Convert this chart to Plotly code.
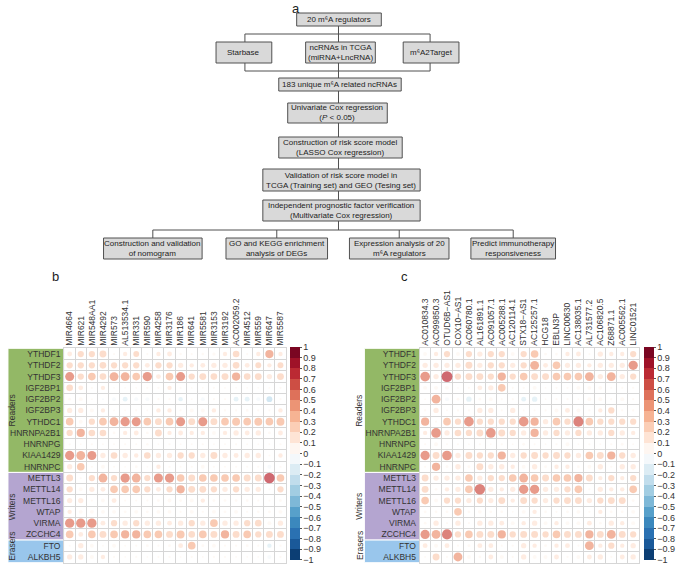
import numpy as np
import plotly.graph_objects as go

W, H = 676, 565

# ---------------- data ----------------
regulators = ["YTHDF1", "YTHDF2", "YTHDF3", "IGF2BP1", "IGF2BP2", "IGF2BP3", "YTHDC1",
              "HNRNPA2B1", "HNRNPG", "KIAA1429", "HNRNPC", "METTL3", "METTL14", "METTL16",
              "WTAP", "VIRMA", "ZCCHC4", "FTO", "ALKBH5"]
group_names = ["Readers", "Writers", "Erasers"]
group_sizes = [11, 6, 2]

mirnas = ["MIR4664", "MIR621", "MIR548AA1", "MIR4292", "MIR573", "AL513534.1", "MIR331",
          "MIR590", "MIR4258", "MIR3176", "MIR186", "MIR641", "MIR5581", "MIR3153",
          "MIR3192", "AC002059.2", "MIR4512", "MIR559", "MIR647", "MIR5587"]
lncrnas = ["AC010834.3", "AC099850.3", "OTUD6B−AS1", "COX10−AS1", "AC060780.1",
           "AL161891.1", "AC091057.1", "AC005288.1", "AC120114.1", "STX18−AS1",
           "AC125257.1", "HCG18", "EBLN3P", "LINC00630", "AC138035.1", "AL731577.2",
           "AC106820.5", "Z68871.1", "AC005562.1", "LINC01521"]

corr_b = [
    [0.15, 0.25, 0.25, 0.30, 0.03, 0.12, 0.22, 0.03, 0.12, 0.15, 0.04, 0.03, 0.04, 0.07, 0.12, 0.28, 0.03, 0.12, 0.43, 0.12],
    [0.25, 0.25, 0.25, 0.28, 0.25, 0.25, 0.25, 0.15, 0.25, 0.25, 0.18, 0.12, 0.15, 0.18, 0.18, 0.28, 0.15, 0.22, 0.12, 0.22],
    [0.52, 0.25, 0.37, 0.28, 0.50, 0.50, 0.37, 0.55, 0.15, 0.37, 0.52, 0.25, 0.30, 0.28, 0.30, 0.43, 0.28, 0.30, 0.18, 0.30],
    [0.28, 0.15, 0.03, 0.12, 0.02, 0.02, 0.02, 0.03, 0.03, 0.12, 0.03, 0.02, 0.02, 0.03, 0.02, 0.02, 0.02, 0.02, 0.02, 0.03],
    [0.05, 0.10, 0.02, -0.02, -0.10, -0.15, -0.10, -0.10, 0.03, 0.03, -0.12, 0.02, -0.10, 0.03, 0.03, -0.15, -0.15, -0.10, -0.22, 0.03],
    [0.18, 0.18, 0.10, 0.12, 0.02, 0.02, 0.03, 0.02, 0.12, 0.12, 0.03, 0.10, 0.10, 0.12, 0.03, 0.03, 0.05, 0.03, 0.03, 0.12],
    [0.37, 0.10, 0.25, 0.37, 0.50, 0.55, 0.52, 0.37, 0.30, 0.37, 0.52, 0.30, 0.52, 0.30, 0.37, 0.40, 0.37, 0.40, 0.37, 0.40],
    [0.25, 0.43, 0.28, 0.28, 0.05, 0.12, 0.15, 0.05, 0.30, 0.12, 0.15, 0.12, 0.12, 0.10, 0.12, 0.18, 0.15, 0.18, 0.05, 0.15],
    [0.03, 0.02, 0.03, 0.02, 0.02, 0.03, 0.02, 0.04, 0.02, 0.03, 0.02, 0.02, 0.03, 0.02, 0.02, 0.03, 0.02, 0.02, 0.02, 0.03],
    [0.55, 0.50, 0.52, 0.18, 0.28, 0.18, 0.12, 0.28, 0.18, 0.18, 0.25, 0.25, 0.18, 0.30, 0.18, 0.15, 0.18, 0.18, 0.03, 0.12],
    [0.18, 0.37, 0.03, 0.10, 0.03, 0.02, 0.05, 0.02, 0.12, 0.03, 0.03, 0.03, 0.10, 0.03, 0.03, 0.03, 0.03, 0.03, -0.10, 0.03],
    [0.30, 0.03, 0.25, 0.50, 0.25, 0.55, 0.50, 0.25, 0.52, 0.55, 0.37, 0.30, 0.37, 0.37, 0.37, 0.37, 0.30, 0.30, 0.72, 0.37],
    [0.25, 0.10, 0.18, 0.15, 0.37, 0.37, 0.37, 0.25, 0.15, 0.25, 0.43, 0.30, 0.30, 0.25, 0.18, 0.25, 0.18, 0.18, 0.03, 0.25],
    [0.18, 0.18, 0.03, 0.10, 0.15, 0.03, 0.03, 0.03, 0.05, 0.10, 0.05, 0.10, 0.12, 0.05, 0.05, 0.05, 0.05, 0.03, 0.03, 0.05],
    [0.12, 0.10, 0.10, 0.10, 0.10, 0.05, 0.10, 0.05, 0.10, 0.10, 0.03, 0.10, 0.03, 0.10, 0.05, 0.10, 0.03, 0.05, 0.05, 0.10],
    [0.55, 0.55, 0.55, 0.15, 0.25, 0.18, 0.25, 0.18, 0.18, 0.15, 0.18, 0.25, 0.18, 0.37, 0.18, 0.18, 0.25, 0.28, 0.10, 0.18],
    [0.37, 0.15, 0.37, 0.30, 0.37, 0.43, 0.43, 0.37, 0.37, 0.30, 0.40, 0.28, 0.37, 0.30, 0.43, 0.30, 0.37, 0.25, 0.30, 0.30],
    [0.02, 0.18, 0.10, 0.02, 0.10, 0.02, 0.03, 0.05, 0.03, 0.05, 0.15, 0.37, 0.05, 0.10, 0.03, 0.03, 0.05, 0.03, -0.12, 0.03],
    [0.18, 0.18, 0.10, 0.12, 0.03, 0.02, 0.03, 0.02, 0.03, 0.03, 0.02, 0.03, 0.02, 0.03, 0.03, 0.02, 0.02, 0.02, -0.10, 0.03],
]

corr_c = [
    [0.10, 0.12, 0.25, 0.10, 0.25, 0.18, 0.25, 0.25, 0.10, 0.25, 0.37, 0.05, 0.05, 0.12, 0.15, 0.03, 0.18, 0.12, 0.12, 0.25],
    [0.18, 0.18, 0.18, 0.18, 0.30, 0.18, 0.25, 0.25, 0.18, 0.25, 0.50, 0.15, 0.37, 0.18, 0.18, 0.12, 0.18, 0.18, 0.18, 0.55],
    [0.60, 0.18, 0.75, 0.25, 0.30, 0.30, 0.25, 0.43, 0.25, 0.37, 0.30, 0.30, 0.37, 0.37, 0.37, 0.50, 0.18, 0.50, 0.18, 0.25],
    [0.10, 0.10, 0.10, 0.02, 0.03, 0.15, 0.18, 0.37, 0.03, 0.03, 0.10, 0.02, 0.03, 0.03, 0.10, 0.10, 0.10, 0.03, 0.03, 0.03],
    [0.02, 0.50, -0.10, 0.05, -0.18, 0.05, 0.10, 0.03, 0.03, -0.15, -0.18, 0.02, 0.03, 0.03, 0.02, 0.10, 0.10, 0.03, 0.10, 0.03],
    [0.03, 0.18, 0.02, 0.03, 0.03, 0.18, 0.18, 0.03, 0.18, 0.02, 0.02, 0.03, 0.10, 0.15, 0.10, 0.03, 0.12, 0.25, 0.03, 0.03],
    [0.43, 0.03, 0.37, 0.25, 0.60, 0.25, 0.25, 0.25, 0.25, 0.60, 0.43, 0.18, 0.37, 0.25, 0.65, 0.37, 0.25, 0.25, 0.25, 0.25],
    [0.12, 0.60, 0.18, 0.28, 0.25, 0.30, 0.60, 0.30, 0.25, 0.18, 0.43, 0.18, 0.25, 0.18, 0.25, 0.18, 0.18, 0.25, 0.18, 0.12],
    [0.03, 0.10, 0.02, 0.03, 0.02, 0.03, 0.02, 0.03, 0.02, 0.05, 0.03, 0.02, 0.03, 0.10, 0.02, 0.03, 0.02, 0.03, 0.05, 0.02],
    [0.55, 0.30, 0.60, 0.18, 0.30, 0.25, 0.25, 0.43, 0.18, 0.25, 0.30, 0.25, 0.30, 0.25, 0.18, 0.37, 0.30, 0.43, 0.25, 0.18],
    [0.03, 0.43, 0.05, 0.18, 0.05, 0.30, 0.18, 0.18, 0.12, 0.10, 0.18, 0.05, 0.12, 0.12, 0.05, 0.10, 0.18, 0.03, 0.18, 0.18],
    [0.30, 0.18, 0.18, 0.18, 0.37, 0.18, 0.25, 0.25, 0.37, 0.50, 0.37, 0.30, 0.37, 0.37, 0.43, 0.30, 0.12, 0.25, 0.12, 0.25],
    [0.30, 0.05, 0.12, 0.18, 0.37, 0.70, 0.18, 0.12, 0.18, 0.55, 0.55, 0.18, 0.18, 0.25, 0.37, 0.03, 0.18, 0.12, 0.12, 0.37],
    [0.37, 0.10, 0.25, 0.25, 0.18, 0.25, 0.18, 0.30, 0.12, 0.30, 0.25, 0.18, 0.25, 0.30, 0.30, 0.18, 0.25, 0.30, 0.30, 0.05],
    [0.05, 0.05, 0.05, 0.37, 0.05, 0.10, 0.05, 0.05, 0.02, 0.10, 0.12, 0.05, 0.03, 0.05, 0.10, 0.03, 0.12, 0.05, 0.05, 0.10],
    [0.05, 0.18, 0.03, 0.18, 0.03, 0.18, 0.18, 0.15, 0.10, 0.12, 0.18, 0.10, 0.12, 0.10, 0.10, 0.15, 0.05, 0.18, 0.12, 0.10],
    [0.55, 0.50, 0.65, 0.25, 0.37, 0.30, 0.30, 0.43, 0.25, 0.30, 0.30, 0.25, 0.37, 0.30, 0.30, 0.43, 0.30, 0.50, 0.30, 0.25],
    [0.15, 0.10, 0.15, 0.03, 0.05, 0.15, 0.15, 0.03, 0.03, 0.18, 0.12, 0.05, 0.12, 0.15, 0.03, 0.50, 0.12, 0.25, 0.12, 0.18],
    [0.02, 0.30, 0.03, 0.50, 0.10, 0.05, 0.15, 0.10, 0.03, 0.18, 0.10, 0.10, 0.15, 0.03, 0.10, 0.15, 0.18, 0.03, 0.15, 0.18],
]

colorbar_ticks = [round(-1 + 0.1 * k, 1) for k in range(21)]

flow_boxes = [
    ("20 m⁶A regulators", (298, 13, 383, 26)),
    ("Starbase", (217, 42, 273, 63)),
    ("ncRNAs in TCGA<br>(miRNA+LncRNA)", (307, 42, 377, 63)),
    ("m⁶A2Target", (405, 42, 461, 63)),
    ("183 unique m⁶A related ncRNAs", (280, 78, 403, 91)),
    ("Univariate Cox regression<br>(<i>P</i> &lt; 0.05)", (289, 103, 389, 123)),
    ("Construction of risk score model<br>(LASSO Cox regression)", (280, 137, 404, 158)),
    ("Validation of risk score model in<br>TCGA (Training set) and GEO (Tesing set)", (264, 169, 422, 191)),
    ("Independent prognostic factor verification<br>(Multivariate Cox regression)", (264, 200, 422, 221)),
    ("Construction and validation<br>of nomogram", (104, 238, 203, 259)),
    ("GO and KEGG enrichment<br>analysis of DEGs", (227, 238, 329, 259)),
    ("Expression analysis of 20<br>m⁶A regulators", (351, 238, 451, 259)),
    ("Predict immunotherapy<br>responsiveness", (473, 238, 558, 259)),
]

# ---------------- styling helpers ----------------
FONT = "Arial, Liberation Sans, sans-serif"
TXT = "#333333"
GRID = "#d6d6d6"

def px(x):
    return x / W

def py(y):
    return 1 - y / H

anchors = ["#053061", "#2166AC", "#4393C3", "#92C5DE", "#D1E5F0", "#FFFFFF",
           "#FDDBC7", "#F4A582", "#D6604D", "#B2182B", "#67001F"]

def hex2rgb(h):
    h = h.lstrip("#")
    return np.array([int(h[i:i + 2], 16) for i in (0, 2, 4)], float)

anc_rgb = [hex2rgb(a) for a in anchors]
anc_pos = np.linspace(-1, 1, 11)

def interp_color(v):
    r = [np.interp(v, anc_pos, [c[i] for c in anc_rgb]) for i in range(3)]
    return "rgb(%d,%d,%d)" % tuple(int(round(x)) for x in r)

colorscale = []
for k in range(20):
    c = interp_color(-1 + 0.1 * k + 0.05)
    colorscale.append([k / 20, c])
    colorscale.append([(k + 1) / 20, c])

ticktext = [("%g" % t).replace("-", "−") for t in colorbar_ticks]

fig = go.Figure()

GRID_TOP, GRID_BOT = 348.4, 562.6
CELL = 11.2

panels = [
    (mirnas, corr_b, "x", "y", "coloraxis", 64.4, 287.3, 8, 5),
    (lncrnas, corr_c, "x2", "y2", "coloraxis2", 421.5, 641.5, 366, 361),
]

shapes = []
annotations = []

for cols, corr, xa, ya, cax, x0, x1, blk0, glab_x in panels:
    arr = np.array(corr, float)
    xs, ys, vs = [], [], []
    for i, r in enumerate(regulators):
        for j, c in enumerate(cols):
            xs.append(c)
            ys.append(r)
            vs.append(arr[i, j])
    vs = np.array(vs)
    sizes = 1.12 * CELL * np.sqrt(np.abs(vs))
    fig.add_trace(go.Scatter(
        x=xs, y=ys, mode="markers", xaxis=xa, yaxis=ya,
        marker=dict(size=sizes, color=vs, coloraxis=cax, line=dict(width=0)),
        showlegend=False, hoverinfo="x+y+text", text=[f"{v:.2f}" for v in vs],
    ))
    colors = ["#93b866", "#b4a5d0", "#99c6ec"]
    start = -0.5
    label_centres = [5.0, 13.5, 17.0]
    for gname, gsize, gcol, lc in zip(group_names, group_sizes, colors, label_centres):
        shapes.append(dict(type="rect", xref="paper", yref=ya,
                           x0=px(blk0), x1=px(x0), y0=start, y1=start + gsize,
                           fillcolor=gcol, line=dict(color="white", width=1), layer="below"))
        annotations.append(dict(xref="paper", yref=ya, x=px(glab_x), y=lc,
                                text=gname, textangle=-90, showarrow=False,
                                font=dict(size=8.5, color=TXT, family=FONT)))
        start += gsize

axis_common = dict(type="category", tickson="boundaries", showgrid=True, gridcolor=GRID,
                   gridwidth=1, showline=True, linecolor=GRID, mirror=True, ticks="",
                   zeroline=False, automargin=False, fixedrange=True)

fig.update_layout(
    xaxis=dict(domain=[px(64.4), px(287.3)], anchor="y", side="top", tickangle=-90,
               categoryorder="array", categoryarray=mirnas, range=[-0.5, 19.5],
               tickfont=dict(size=8.5, color=TXT, family=FONT), **axis_common),
    yaxis=dict(domain=[py(GRID_BOT), py(GRID_TOP)], anchor="x",
               categoryorder="array", categoryarray=regulators, range=[18.5, -0.5],
               tickfont=dict(size=8.5, color=TXT, family=FONT), ticklabelstandoff=1,
               **axis_common),
    xaxis2=dict(domain=[px(421.5), px(641.5)], anchor="y2", side="top", tickangle=-90,
                categoryorder="array", categoryarray=lncrnas, range=[-0.5, 19.5],
                tickfont=dict(size=8.5, color=TXT, family=FONT), **axis_common),
    yaxis2=dict(domain=[py(GRID_BOT), py(GRID_TOP)], anchor="x2",
                categoryorder="array", categoryarray=regulators, range=[18.5, -0.5],
                tickfont=dict(size=8.5, color=TXT, family=FONT), ticklabelstandoff=1,
                **axis_common),
)

for cax, cbx in (("coloraxis", 291), ("coloraxis2", 647)):
    fig.layout[cax] = dict(
        cmin=-1.0005, cmax=1.0005, colorscale=colorscale,
        colorbar=dict(x=px(cbx), xanchor="left", xref="paper", y=py(453.5), yanchor="middle",
                      len=213, lenmode="pixels", thickness=10, outlinewidth=0,
                      tickvals=colorbar_ticks, ticktext=ticktext, ticks="outside",
                      ticklen=2, tickcolor="#555555", xpad=0, ypad=0,
                      ticklabeloverflow="allow",
                      tickfont=dict(size=9, color=TXT, family=FONT)),
    )

# ---------------- flowchart (panel a) ----------------
LC = "#505050"
for text, (bx0, by0, bx1, by1) in flow_boxes:
    shapes.append(dict(type="rect", xref="paper", yref="paper",
                       x0=px(bx0), x1=px(bx1), y0=py(by1), y1=py(by0),
                       fillcolor="#d9d9d9", line=dict(color=LC, width=1)))
    annotations.append(dict(xref="paper", yref="paper", x=px((bx0 + bx1) / 2),
                            y=py((by0 + by1) / 2), text=text, showarrow=False,
                            align="center", xanchor="center", yanchor="middle",
                            font=dict(size=8, color="#222222", family=FONT)))

def box_center(idx):
    b = flow_boxes[idx][1]
    return (b[0] + b[2]) / 2

def seg(xa_, ya_, xb_, yb_):
    shapes.append(dict(type="line", xref="paper", yref="paper",
                       x0=px(xa_), y0=py(ya_), x1=px(xb_), y1=py(yb_),
                       line=dict(color=LC, width=1), layer="below"))

cx = 340
lx, rx = box_center(1) + 1, box_center(3) - 1
seg(cx, 26, cx, 42)
seg(lx, 34, rx, 34)
seg(lx, 34, lx, 42)
seg(rx, 34, rx, 42)
seg(lx, 63, lx, 71)
seg(cx, 63, cx, 71)
seg(rx, 63, rx, 71)
seg(lx, 71, rx, 71)
seg(cx, 71, cx, 78)
seg(cx, 91, cx, 103)
seg(cx, 123, cx, 137)
seg(cx, 158, cx, 169)
seg(cx, 191, cx, 200)
seg(cx, 221, cx, 230)
bottom_centers = [box_center(i) for i in range(9, 13)]
seg(bottom_centers[0], 230, bottom_centers[-1], 230)
for bc in bottom_centers:
    seg(bc, 230, bc, 238)

for letter, lxp, lyp in (("a", 297, 8), ("b", 56, 276), ("c", 406, 276)):
    annotations.append(dict(xref="paper", yref="paper", x=px(lxp), y=py(lyp), text=letter,
                            showarrow=False, xanchor="center", yanchor="middle",
                            font=dict(size=13, color="#222222", family=FONT)))

fig.update_layout(
    width=W, height=H, margin=dict(l=0, r=0, t=0, b=0),
    paper_bgcolor="white", plot_bgcolor="white",
    shapes=shapes, annotations=annotations, showlegend=False,
    font=dict(family=FONT, color=TXT),
)

fig.write_html("out.html", config={"displayModeBar": False},
               post_script="document.body.style.margin='0px';document.body.style.overflow='hidden';")
